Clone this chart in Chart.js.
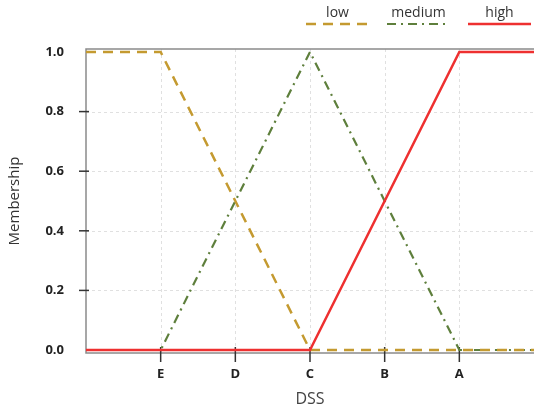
<!DOCTYPE html>
<html>
<head>
<meta charset="utf-8">
<script src="https://cdn.jsdelivr.net/npm/chart.js@4/dist/chart.umd.min.js"></script>
<style>
  html, body { margin: 0; padding: 0; background: #fff; }
</style>
</head>
<body>
<canvas id="chart" width="534" height="409"></canvas>
<script>
// axis ticks
const xTickValues = [1, 2, 3, 4, 5];
const xTickLabels = ['E', 'D', 'C', 'B', 'A'];
const yTickValues = [0, 0.2, 0.4, 0.6, 0.8, 1.0];

// membership functions (x position, membership)
const lowX = [0, 1, 3, 6];
const lowY = [1, 1, 0, 0];
const mediumX = [0, 1, 3, 5, 6];
const mediumY = [0, 0, 1, 0, 0];
const highX = [0, 3, 5, 6];
const highY = [0, 0, 1, 1];

function toPoints(xs, ys) {
    return xs.map((x, i) => ({ x: x, y: ys[i] }));
}

const FONT = '"Open Sans", "Noto Sans", sans-serif';

// grid, frame and tick marks drawn under the lines
const framePlugin = {
    id: 'frame',
    beforeDatasetsDraw(chart) {
        const ctx = chart.ctx;
        const area = chart.chartArea;
        const xs = chart.scales.x, ys = chart.scales.y;
        ctx.save();
        // dashed grid
        ctx.strokeStyle = '#e0e0e0';
        ctx.lineWidth = 1;
        ctx.setLineDash([3, 3]);
        yTickValues.forEach(v => {
            if (v === 0 || v === 1) return;
            const py = Math.round(ys.getPixelForValue(v)) + 0.5;
            ctx.beginPath(); ctx.moveTo(area.left, py); ctx.lineTo(area.right, py); ctx.stroke();
        });
        xTickValues.forEach(v => {
            const px = Math.round(xs.getPixelForValue(v)) + 0.5;
            ctx.beginPath(); ctx.moveTo(px, area.top); ctx.lineTo(px, area.bottom); ctx.stroke();
        });
        ctx.setLineDash([]);
        // frame
        ctx.strokeStyle = '#8a8a8a';
        ctx.lineWidth = 1.5;
        ctx.beginPath();
        ctx.moveTo(area.right, area.top);
        ctx.lineTo(area.left, area.top);
        ctx.lineTo(area.left, area.bottom);
        ctx.lineTo(area.right, area.bottom);
        ctx.stroke();
        // tick marks
        ctx.strokeStyle = '#333';
        ctx.lineWidth = 1.5;
        yTickValues.forEach(v => {
            if (v === 0 || v === 1) return;
            const py = ys.getPixelForValue(v);
            ctx.beginPath(); ctx.moveTo(area.left - 7, py); ctx.lineTo(area.left + 3, py); ctx.stroke();
        });
        xTickValues.forEach(v => {
            const px = xs.getPixelForValue(v);
            ctx.beginPath(); ctx.moveTo(px, area.bottom - 6); ctx.lineTo(px, area.bottom + 9); ctx.stroke();
        });
        ctx.restore();
    },
    afterDraw(chart) {
        // legend: label above a line sample
        const ctx = chart.ctx;
        const items = chart.data.datasets;
        const lineLen = 63, gap = 18;
        let x = chart.width - 3 - items.length * lineLen - (items.length - 1) * gap;
        ctx.save();
        items.forEach(ds => {
            ctx.setLineDash(ds.borderDash || []);
            ctx.strokeStyle = ds.borderColor;
            ctx.lineWidth = ds.borderWidth;
            ctx.beginPath(); ctx.moveTo(x, 24); ctx.lineTo(x + lineLen, 24); ctx.stroke();
            ctx.setLineDash([]);
            ctx.fillStyle = '#333';
            ctx.font = '14px ' + FONT;
            ctx.textAlign = 'center';
            ctx.textBaseline = 'middle';
            ctx.fillText(ds.label, x + lineLen / 2, 13);
            x += lineLen + gap;
        });
        ctx.restore();
    }
};

new Chart(document.getElementById('chart'), {
    type: 'line',
    data: {
        datasets: [
            {
                label: 'low',
                data: toPoints(lowX, lowY),
                borderColor: '#c49a30',
                borderWidth: 2.5,
                borderDash: [10, 7],
                pointRadius: 0,
                fill: false,
                order: 1
            },
            {
                label: 'medium',
                data: toPoints(mediumX, mediumY),
                borderColor: '#5e7f3c',
                borderWidth: 2.2,
                borderDash: [9, 5, 2, 5],
                pointRadius: 0,
                fill: false,
                order: 2
            },
            {
                label: 'high',
                data: toPoints(highX, highY),
                borderColor: '#ee3030',
                borderWidth: 2.5,
                pointRadius: 0,
                fill: false,
                order: 0
            }
        ]
    },
    options: {
        responsive: false,
        animation: false,
        devicePixelRatio: 1,
        layout: { padding: { top: 49, left: 2, right: 0, bottom: 0 } },
        plugins: {
            legend: { display: false },
            tooltip: { enabled: false }
        },
        scales: {
            x: {
                type: 'linear',
                min: 0,
                max: 6,
                afterBuildTicks: s => { s.ticks = xTickValues.map(v => ({ value: v })); },
                afterFit: s => { s.height = 56; },
                grid: { display: false, drawTicks: false },
                border: { display: false },
                ticks: {
                    padding: 13,
                    color: '#222',
                    font: { family: FONT, size: 13, weight: 'bold' },
                    callback: v => xTickLabels[xTickValues.indexOf(v)] || ''
                },
                title: {
                    display: true,
                    text: 'DSS',
                    color: '#444',
                    font: { family: FONT, size: 16 },
                    padding: { top: 4, bottom: 0 }
                }
            },
            y: {
                type: 'linear',
                min: -0.01,
                max: 1.01,
                afterBuildTicks: s => { s.ticks = yTickValues.map(v => ({ value: v })); },
                afterFit: s => { s.width = 84; },
                grid: { display: false, drawTicks: false },
                border: { display: false },
                ticks: {
                    padding: 22,
                    color: '#222',
                    font: { family: FONT, size: 13, weight: 'bold' },
                    callback: v => Number(v).toFixed(1)
                },
                title: {
                    display: true,
                    text: 'Membership',
                    color: '#333',
                    font: { family: FONT, size: 15 },
                    padding: { top: 4, bottom: 4 }
                }
            }
        }
    },
    plugins: [framePlugin]
});
</script>
</body>
</html>
